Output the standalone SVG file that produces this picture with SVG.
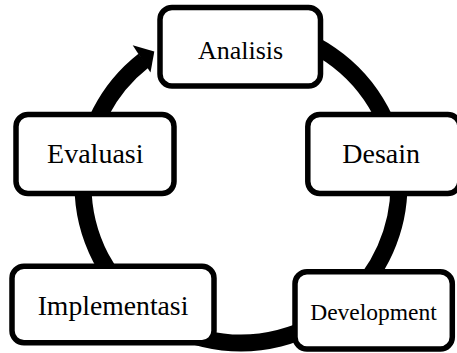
<svg xmlns="http://www.w3.org/2000/svg" width="457" height="353" viewBox="0 0 457 353">
  <style>
    .box { fill: #ffffff; stroke: #000000; stroke-width: 5.5; }
    .lbl { font-family: "Liberation Serif", "Times New Roman", serif; fill: #000000; text-anchor: middle; }
    .ring { fill: none; stroke: #000000; stroke-width: 17; stroke-linecap: butt; }
  </style>
  <rect width="457" height="353" fill="#ffffff"/>
  <g id="connectors">
    <path class="ring" d="M 268.4 29.4 A 158 158 0 1 1 143.7 60.5"/>
    <polygon points="132.7,45.3 154.3,51.5 150.5,72.5" fill="#000000"/>
  </g>
  <g id="node-analisis">
    <rect class="box" x="160" y="7.5" width="160.5" height="78.5" rx="12" ry="12"/>
    <text class="lbl" x="240.5" y="59.3" font-size="26">Analisis</text>
  </g>
  <g id="node-desain">
    <rect class="box" x="307.8" y="114.5" width="152" height="79" rx="12" ry="12"/>
    <text class="lbl" x="381.2" y="163.3" font-size="28">Desain</text>
  </g>
  <g id="node-development">
    <rect class="box" x="295" y="271.7" width="157.3" height="77.3" rx="12" ry="12"/>
    <text class="lbl" x="373.5" y="320" font-size="23.5">Development</text>
  </g>
  <g id="node-implementasi">
    <rect class="box" x="12" y="266.3" width="202" height="76.5" rx="12" ry="12"/>
    <text class="lbl" x="113" y="315" font-size="27.7">Implementasi</text>
  </g>
  <g id="node-evaluasi">
    <rect class="box" x="16" y="114.5" width="158" height="79" rx="12" ry="12"/>
    <text class="lbl" x="95.3" y="163.3" font-size="28">Evaluasi</text>
  </g>
</svg>
